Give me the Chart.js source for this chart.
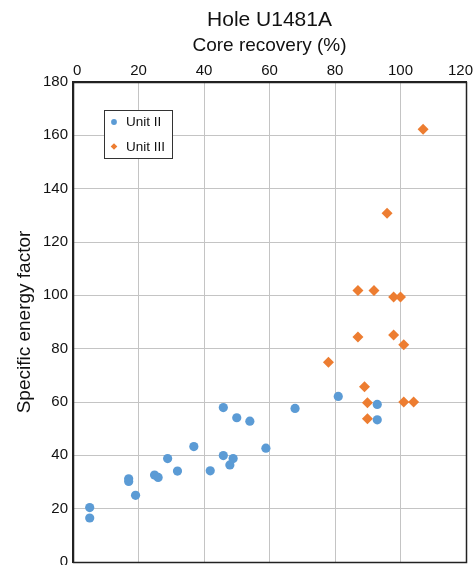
<!DOCTYPE html>
<html>
<head>
<meta charset="utf-8">
<script src="https://cdn.jsdelivr.net/npm/chart.js@4.4.0/dist/chart.umd.min.js"></script>
<style>
  html, body { margin: 0; padding: 0; background: #fff; overflow: hidden; }
  #wrap { position: relative; width: 476px; height: 576px; }
</style>
</head>
<body>
<div id="wrap"><canvas id="c"></canvas></div>
<script>
// Core recovery (%) and specific energy factor, Hole U1481A
const unit2Recovery = [5.1, 5.1, 17.0, 17.0, 19.1, 24.9, 26.0, 28.9, 31.9, 36.9, 41.9, 45.9, 45.9, 48.9, 47.9, 50.0, 54.0, 58.9, 67.8, 81.0, 92.9, 92.9];
const unit2Energy   = [20.4, 16.5, 31.2, 30.2, 25.0, 32.6, 31.7, 38.8, 34.1, 43.3, 34.2, 57.9, 39.9, 38.8, 36.4, 54.1, 52.8, 42.7, 57.6, 62.1, 59.1, 53.3];

const unit3Recovery = [106.9, 95.9, 87.0, 91.9, 97.9, 100.0, 87.0, 97.9, 101.0, 78.0, 89.0, 89.9, 101.0, 104.0, 89.9];
const unit3Energy   = [162.3, 130.8, 101.8, 101.8, 99.4, 99.4, 84.4, 85.1, 81.5, 74.9, 65.7, 59.7, 60.0, 60.0, 53.7];

const xTicks = [0, 20, 40, 60, 80, 100, 120];
const yTicks = [0, 20, 40, 60, 80, 100, 120, 140, 160, 180];

const seriesNames = ['Unit II', 'Unit III'];
const chartTitle = 'Hole U1481A';
const FONT = "'Liberation Sans', Arial, Helvetica, sans-serif";

const toPoints = (xs, ys) => xs.map((x, i) => ({ x, y: ys[i] }));

// Title centred over the plotting area
const plotTitle = {
  id: 'plotTitle',
  afterDraw(chart) {
    const { ctx, chartArea: a } = chart;
    ctx.save();
    ctx.font = '21px ' + FONT;
    ctx.fillStyle = '#111';
    ctx.textAlign = 'center';
    ctx.textBaseline = 'middle';
    ctx.fillText(chartTitle, (a.left + a.right) / 2, 20);
    ctx.restore();
  }
};

// Top-axis tick labels, kept inside the canvas at both ends
const topTickLabels = {
  id: 'topTickLabels',
  afterDraw(chart) {
    const { ctx, chartArea: a, width } = chart;
    const sx = chart.scales.x;
    ctx.save();
    ctx.font = '15px ' + FONT;
    ctx.fillStyle = '#111';
    ctx.textAlign = 'left';
    ctx.textBaseline = 'middle';
    xTicks.forEach(v => {
      const label = String(v);
      const w = ctx.measureText(label).width;
      let left = sx.getPixelForValue(v) - w / 2;
      left = Math.max(a.left, Math.min(left, width - 3 - w));
      ctx.fillText(label, left, 70.5);
    });
    ctx.restore();
  }
};

// Frame around the plotting area
const frame = {
  id: 'frame',
  afterDatasetsDraw(chart) {
    const { ctx, chartArea: a } = chart;
    ctx.save();
    ctx.strokeStyle = '#222';
    ctx.lineWidth = 1.5;
    ctx.strokeRect(Math.round(a.left) + 0.5, Math.round(a.top) + 0.5,
                   Math.round(a.right - a.left), Math.round(a.bottom - a.top));
    ctx.restore();
  }
};

// Boxed legend placed inside the plot, upper left
const innerLegend = {
  id: 'innerLegend',
  afterDraw(chart) {
    const { ctx, chartArea: a } = chart;
    const x0 = Math.round(a.left) + 31, y0 = Math.round(a.top) + 28, w = 68, h = 48;
    ctx.save();
    ctx.fillStyle = '#fff';
    ctx.fillRect(x0, y0, w, h);
    ctx.strokeStyle = '#333';
    ctx.lineWidth = 1;
    ctx.strokeRect(x0 + 0.5, y0 + 0.5, w, h);
    ctx.font = '13.5px ' + FONT;
    ctx.textBaseline = 'middle';
    chart.data.datasets.forEach((ds, i) => {
      const cx = x0 + 10, cy = y0 + 12 + i * 24.5;
      ctx.fillStyle = ds.backgroundColor;
      ctx.beginPath();
      if (ds.pointStyle === 'rectRot') {
        const r = 3.3;
        ctx.moveTo(cx, cy - r); ctx.lineTo(cx + r, cy);
        ctx.lineTo(cx, cy + r); ctx.lineTo(cx - r, cy);
      } else {
        ctx.arc(cx, cy, 2.9, 0, Math.PI * 2);
      }
      ctx.closePath();
      ctx.fill();
      ctx.fillStyle = '#111';
      ctx.fillText(ds.label, x0 + 22, cy + 0.5);
    });
    ctx.restore();
  }
};

new Chart(document.getElementById('c'), {
  type: 'scatter',
  data: {
    datasets: [
      {
        label: seriesNames[0],
        data: toPoints(unit2Recovery, unit2Energy),
        pointStyle: 'circle',
        pointRadius: 4.6,
        backgroundColor: '#5b9bd5',
        borderColor: '#5b9bd5',
        borderWidth: 0
      },
      {
        label: seriesNames[1],
        data: toPoints(unit3Recovery, unit3Energy),
        pointStyle: 'rectRot',
        pointRadius: 5.5,
        backgroundColor: '#ed7d31',
        borderColor: '#ed7d31',
        borderWidth: 0
      }
    ]
  },
  options: {
    responsive: true,
    maintainAspectRatio: false,
    animation: false,
    layout: { padding: 0 },
    plugins: {
      legend: { display: false },
      tooltip: { enabled: false },
      title: { display: false }
    },
    scales: {
      x: {
        type: 'linear',
        position: 'top',
        min: xTicks[0],
        max: xTicks[xTicks.length - 1],
        afterBuildTicks: s => { s.ticks = xTicks.map(v => ({ value: v })); },
        afterFit: s => { s.height = 82; s.paddingLeft = 0; s.paddingRight = 10; },
        ticks: { display: false },
        grid: { color: '#c4c4c4', lineWidth: 1, drawTicks: false },
        border: { display: true, color: '#222', width: 1.5 },
        title: {
          display: true,
          text: 'Core recovery (%)',
          color: '#111',
          font: { family: FONT, size: 19 },
          padding: { top: 34.5, bottom: 0 }
        }
      },
      y: {
        type: 'linear',
        min: yTicks[0],
        max: yTicks[yTicks.length - 1],
        afterBuildTicks: s => { s.ticks = yTicks.map(v => ({ value: v })); },
        afterFit: s => { s.width = 73; },
        ticks: { color: '#111', font: { family: FONT, size: 15 }, padding: 5 },
        grid: { color: '#c4c4c4', lineWidth: 1, drawTicks: false },
        border: { display: true, color: '#222', width: 1.5 },
        title: {
          display: true,
          text: 'Specific energy factor',
          color: '#111',
          font: { family: FONT, size: 19 },
          padding: { top: 13.5, bottom: 0 }
        }
      }
    }
  },
  plugins: [frame, plotTitle, topTickLabels, innerLegend]
});
</script>
</body>
</html>
